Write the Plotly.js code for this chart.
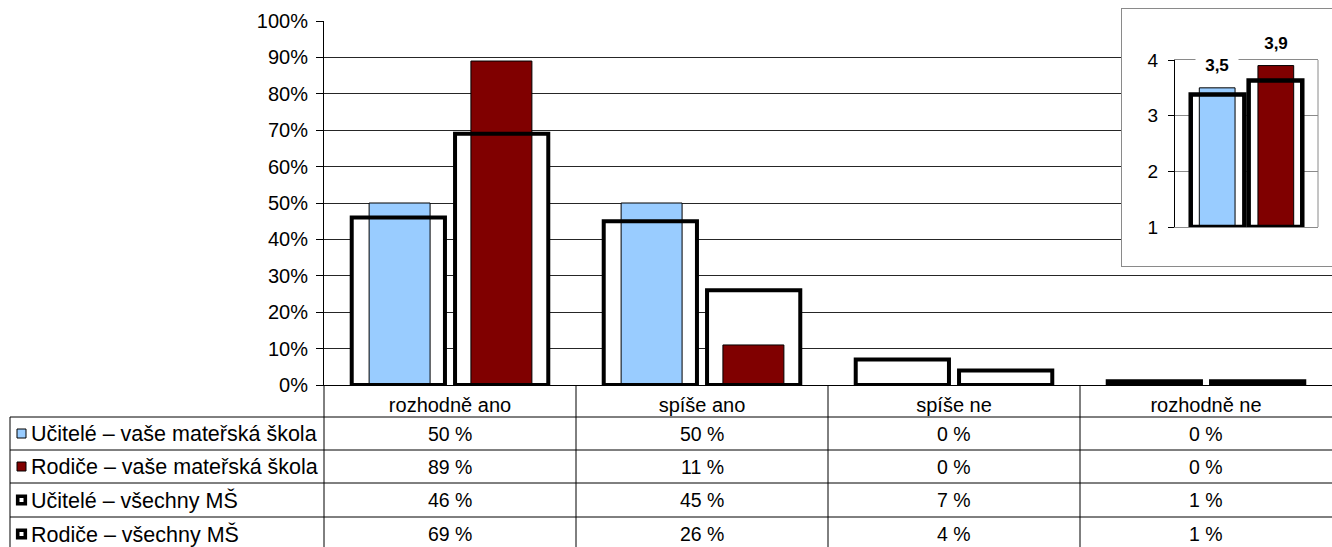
<!DOCTYPE html>
<html>
<head>
<meta charset="utf-8">
<script src="https://cdn.plot.ly/plotly-3.0.1.min.js"></script>
<style>
  html, body { margin: 0; padding: 0; background: #fff; overflow: hidden; }
  #main { position: absolute; left: 0; top: 0; width: 1332px; height: 547px; }
  #inset { position: absolute; left: 1121px; top: 8px; width: 220px; height: 257px; border: 1px solid #8a8a8a; background: #fff; }
</style>
</head>
<body>
<div id="main"></div>
<div id="inset"></div>
<script>
// ---------- data ----------
const categories = ['rozhodně ano', 'spíše ano', 'spíše ne', 'rozhodně ne'];
const seriesNames = ['Učitelé – vaše mateřská škola', 'Rodiče – vaše mateřská škola', 'Učitelé – všechny MŠ', 'Rodiče – všechny MŠ'];
const uciteleVase = [50, 50, 0, 0];
const rodiceVase = [89, 11, 0, 0];
const uciteleVsechny = [46, 45, 7, 1];
const rodiceVsechny = [69, 26, 4, 1];
const yTickValues = [0, 10, 20, 30, 40, 50, 60, 70, 80, 90, 100];
const yTickLabels = ['0%', '10%', '20%', '30%', '40%', '50%', '60%', '70%', '80%', '90%', '100%'];

const insetCategory = ['průměr'];
const insetUciteleVase = [3.5];
const insetRodiceVase = [3.9];
const insetUciteleVsechny = [3.38];
const insetRodiceVsechny = [3.63];
const insetTickValues = [1, 2, 3, 4];

// ---------- style ----------
const FONT = 'Liberation Sans, Arial, sans-serif';
const FS = 19.5;
const FS_LEG = 21.5;
const BLUE = '#99CCFF';
const MAROON = '#800000';

// main layout geometry (pixels)
const L = 324, T = 21, W = 1332, H = 547, PW = W - L, PH = 385 - T;
const px2x = px => (px - L) / PW;
const py2y = py => (T + PH - py) / PH;

function filled(vals, color, offset, width, name) {
  return {type: 'bar', x: categories, y: vals, name: name, offset: offset, width: width,
    marker: {color: color, line: {color: '#000', width: 1}}, cliponaxis: false, hoverinfo: 'x+y+name'};
}
function outlineFill(vals, offset, width) {
  return {type: 'bar', x: categories, y: vals, offset: offset, width: width,
    marker: {color: '#fff', line: {color: '#fff', width: 0}}, cliponaxis: false, hoverinfo: 'skip'};
}
function outlineEdge(vals, offset, width, name) {
  return {type: 'bar', x: categories, y: vals, name: name, offset: offset, width: width,
    marker: {color: 'rgba(0,0,0,0)', line: {color: '#000', width: 4}}, cliponaxis: false, hoverinfo: 'x+y+name'};
}

const OW = 0.37, FW = 0.242;
const traces = [
  outlineFill(uciteleVsechny, -0.39, OW),
  outlineFill(rodiceVsechny, 0.02, OW),
  filled(uciteleVase, BLUE, -0.321, FW, seriesNames[0]),
  filled(rodiceVase, MAROON, 0.083, FW, seriesNames[1]),
  outlineEdge(uciteleVsechny, -0.39, OW, seriesNames[2]),
  outlineEdge(rodiceVsechny, 0.02, OW, seriesNames[3])
];

// table
const rowLines = [417, 450, 483, 517, 551];
const rowData = [uciteleVase, rodiceVase, uciteleVsechny, rodiceVsechny];
const keyStyles = [
  {fill: BLUE, line: 1, half: 4.5},
  {fill: MAROON, line: 1, half: 4.5},
  {fill: '#fff', line: 3.6, half: 3.8},
  {fill: '#fff', line: 3.6, half: 3.8}
];

const shapes = [];
const annotations = [];
rowLines.forEach(py => shapes.push({type: 'line', xref: 'paper', yref: 'paper',
  x0: px2x(10), x1: 1.01, y0: py2y(py), y1: py2y(py), line: {color: '#000', width: 1}}));
shapes.push({type: 'line', xref: 'paper', yref: 'paper', x0: px2x(10), x1: px2x(10),
  y0: py2y(417), y1: py2y(560), line: {color: '#000', width: 1}});
shapes.push({type: 'line', xref: 'paper', yref: 'paper', x0: 0, x1: 0,
  y0: 0, y1: py2y(560), line: {color: '#000', width: 1}});
for (let i = 0; i < categories.length - 1; i++) {
  shapes.push({type: 'line', xref: 'x', yref: 'paper', x0: i + 0.5, x1: i + 0.5,
    y0: 0, y1: py2y(560), line: {color: '#000', width: 1}});
}
for (let r = 0; r < 4; r++) {
  const cy = (rowLines[r] + rowLines[r + 1]) / 2;
  const k = keyStyles[r];
  shapes.push({type: 'rect', xref: 'paper', yref: 'paper', xsizemode: 'pixel', ysizemode: 'pixel',
    xanchor: px2x(21.5), yanchor: py2y(cy), x0: -k.half, x1: k.half, y0: -k.half, y1: k.half,
    fillcolor: k.fill, line: {color: '#000', width: k.line}});
  annotations.push({xref: 'paper', yref: 'paper', x: px2x(29), y: py2y(cy), xanchor: 'left', yanchor: 'middle',
    text: seriesNames[r], showarrow: false, font: {family: FONT, size: FS_LEG, color: '#000'}});
  rowData[r].forEach((v, c) => annotations.push({xref: 'x', yref: 'paper', x: categories[c], y: py2y(cy),
    xanchor: 'center', yanchor: 'middle', text: v + ' %', showarrow: false,
    font: {family: FONT, size: FS, color: '#000'}}));
}

const layout = {
  width: W, height: H,
  margin: {l: L, r: 0, t: T, b: H - 385, pad: 0},
  paper_bgcolor: '#fff', plot_bgcolor: '#fff',
  showlegend: false,
  barmode: 'overlay',
  font: {family: FONT, size: FS, color: '#000'},
  xaxis: {type: 'category', categoryarray: categories, range: [-0.5, 3.5], showgrid: false,
    showline: true, linecolor: '#000', linewidth: 1, ticks: '', ticklabelstandoff: 2,
    tickfont: {family: FONT, size: 20, color: '#000'}, fixedrange: true},
  yaxis: {range: [0, 100], tickmode: 'array', tickvals: yTickValues, ticktext: yTickLabels,
    showgrid: true, gridcolor: '#262626', gridwidth: 1,
    showline: true, linecolor: '#000', linewidth: 1, ticks: 'outside', ticklen: 7, tickcolor: '#000',
    ticklabelstandoff: 4, zeroline: false, tickfont: {family: FONT, size: 20, color: '#000'}, fixedrange: true},
  shapes: shapes,
  annotations: annotations
};

Plotly.newPlot('main', traces, layout, {displayModeBar: false, staticPlot: true});

// ---------- inset ----------
const IW = 220, IH = 257;
function insetBar(vals, fill, lineW, offset, width, name) {
  return {type: 'bar', x: insetCategory, y: vals.map(v => v - 1), base: 1, offset: offset, width: width, name: name,
    customdata: vals, hovertemplate: '%{customdata}<extra>' + name + '</extra>',
    marker: {color: fill, line: {color: lineW > 0 ? '#000' : fill, width: lineW}}, cliponaxis: false};
}
const IOW = 0.375, IFW = 0.25;
const insetTraces = [
  insetBar(insetUciteleVsechny, '#fff', 0, -0.39, IOW, seriesNames[2]),
  insetBar(insetRodiceVsechny, '#fff', 0, 0.015, IOW, seriesNames[3]),
  insetBar(insetUciteleVase, BLUE, 1, -0.33, IFW, seriesNames[0]),
  insetBar(insetRodiceVase, MAROON, 1, 0.08, IFW, seriesNames[1]),
  insetBar(insetUciteleVsechny, 'rgba(0,0,0,0)', 4.5, -0.39, IOW, seriesNames[2]),
  insetBar(insetRodiceVsechny, 'rgba(0,0,0,0)', 4.5, 0.015, IOW, seriesNames[3])
];
const fmt = v => v.toFixed(1).replace('.', ',');
const insetAnn = [
  {x: -0.33 + IFW / 2, y: insetUciteleVase[0], text: '<b>' + fmt(insetUciteleVase[0]) + '</b>'},
  {x: 0.08 + IFW / 2, y: insetRodiceVase[0], text: '<b>' + fmt(insetRodiceVase[0]) + '</b>'}
].map(a => Object.assign(a, {xref: 'x', yref: 'y', yanchor: 'middle', xanchor: 'center', yshift: 22,
  showarrow: false, bgcolor: '#fff', width: 40, borderpad: 1,
  font: {family: FONT, size: 17, color: '#000'}}));

const insetLayout = {
  width: IW, height: IH,
  margin: {l: 53, r: 24, t: 51, b: 39, pad: 0},
  paper_bgcolor: '#fff', plot_bgcolor: '#fff',
  showlegend: false, barmode: 'overlay',
  font: {family: FONT, size: 18, color: '#000'},
  xaxis: {type: 'category', range: [-0.5, 0.5], showticklabels: false, ticks: '', showgrid: false,
    showline: true, mirror: true, linecolor: '#8a8a8a', linewidth: 1, fixedrange: true},
  yaxis: {range: [1, 4], tickvals: insetTickValues, showgrid: true, gridcolor: '#8a8a8a', gridwidth: 1,
    showline: true, linecolor: '#000', linewidth: 1, ticks: 'outside', ticklen: 6, tickcolor: '#000',
    ticklabelstandoff: 6, zeroline: false, tickfont: {family: FONT, size: 19, color: '#000'}, fixedrange: true},
  shapes: [{type: 'line', xref: 'paper', yref: 'paper', x0: 1, x1: 1, y0: 0, y1: 1, layer: 'below',
    line: {color: '#8a8a8a', width: 1}}],
  annotations: insetAnn
};
Plotly.newPlot('inset', insetTraces, insetLayout, {displayModeBar: false, staticPlot: true});
</script>
</body>
</html>
